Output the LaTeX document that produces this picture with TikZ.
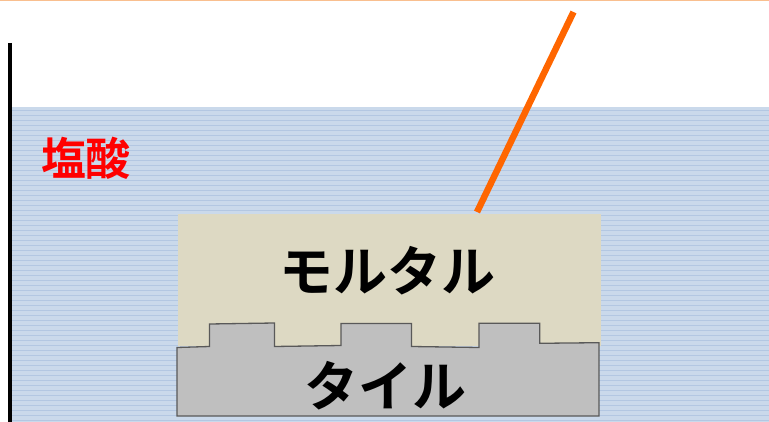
\documentclass[tikz,border=0pt]{standalone}
\usepackage{fontspec}
\newfontfamily\jpfont{Noto Sans CJK JP}[BoldFont={* Bold}]
\definecolor{acid}{HTML}{CAD9EB}
\definecolor{acidline}{HTML}{B3C7E2}
\definecolor{mortar}{HTML}{DDD9C3}
\definecolor{tile}{HTML}{BFBFBF}
\definecolor{tileedge}{HTML}{595959}
\definecolor{rod}{HTML}{FF6600}
\definecolor{topline}{HTML}{F9BF8F}
\tikzset{
  label text/.style={font=\jpfont\bfseries\fontsize{54}{54}\selectfont, text=black, inner sep=0pt},
}
\begin{document}
\begin{tikzpicture}[x=1pt,y=-1pt]
\useasboundingbox (0,0) rectangle (769,422);
% top line
\draw[topline, line width=1.5pt] (0,0.75) -- (769,0.75);
% acid bath
\fill[acid] (12,107) rectangle (769,422);
\foreach \yy in {110,115,...,420} {
  \draw[acidline, line width=0.6pt] (12,\yy) -- (769,\yy);
}
% container wall
\draw[black, line width=4pt] (10.3,43) -- (10.3,422);
% acid label
\node[font=\jpfont\bfseries\fontsize{45}{45}\selectfont, text=red, inner sep=0pt] (acidlbl) at (86,158) {塩酸};
% mortar
\fill[mortar] (178,214) rectangle (601,346);
% tile
\draw[tileedge, fill=tile, line width=1.3pt]
  (177,416) -- (177,347.5) -- (209.5,346.5) -- (209.5,324) -- (274.5,323) -- (274.5,346.5)
  -- (341,345.5) -- (341,323.5) -- (411.5,323.5) -- (411.5,346.5) -- (479,347.5)
  -- (479,323.3) -- (539.7,323.3) -- (539.7,343.3) -- (599,342.7) -- (599,416) -- cycle;
% texts
\node[label text] (mortarlbl) at (387,271) {モルタル};
\node[label text] (tilelbl) at (385,386) {タイル};
% rod
\coordinate (rodtop) at (573.5,12);
\coordinate (rodbot) at (477,212);
\draw[rod, line width=6.5pt] (rodtop) -- (rodbot);
\end{tikzpicture}
\end{document}
